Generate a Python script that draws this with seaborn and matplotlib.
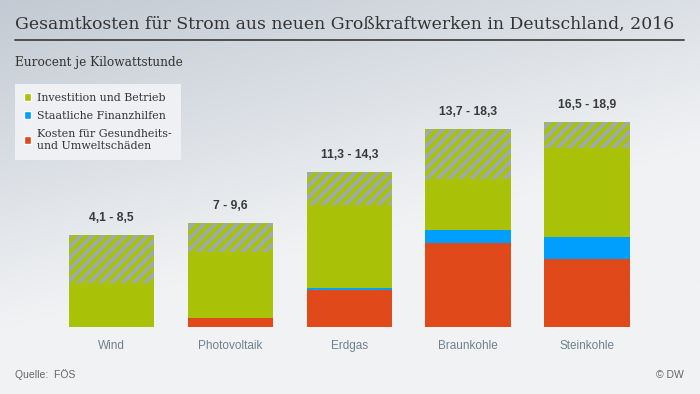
import numpy as np
import pandas as pd
import matplotlib
matplotlib.use("Agg")
import matplotlib.pyplot as plt
from matplotlib.patches import Patch
from matplotlib.lines import Line2D
import seaborn as sns

# ========== data (Eurocent je kWh) ==========
kategorien = ["Wind", "Photovoltaik", "Erdgas", "Braunkohle", "Steinkohle"]
gesundheit = [0.0, 0.9, 3.5, 7.8, 6.3]      # Kosten für Gesundheits- und Umweltschäden
finanzhilfen = [0.0, 0.0, 0.1, 1.2, 2.0]    # Staatliche Finanzhilfen
investition = [4.1, 6.1, 7.7, 4.7, 8.2]     # Investition und Betrieb
spanne_von = [4.1, 7.0, 11.3, 13.7, 16.5]
spanne_bis = [8.5, 9.6, 14.3, 18.3, 18.9]
spanne_text = ["4,1 - 8,5", "7 - 9,6", "11,3 - 14,3", "13,7 - 18,3", "16,5 - 18,9"]

ROT = "#e0491a"
BLAU = "#009ffd"
GRUEN = "#a9c208"
GRAU = "#9aaab8"

df = pd.DataFrame({
    "kategorie": kategorien,
    "gesundheit": gesundheit,
    "finanzhilfen": finanzhilfen,
    "investition": investition,
    "von": spanne_von,
    "spanne": np.array(spanne_bis) - np.array(spanne_von),
})
df["unten_blau"] = df["gesundheit"]
df["unten_gruen"] = df["gesundheit"] + df["finanzhilfen"]

sns.set_style("white")
plt.rcParams["hatch.linewidth"] = 3.0
plt.rcParams["font.family"] = ["DejaVu Sans"]

fig = plt.figure(figsize=(7, 3.94), dpi=100)

# background gradient
bg = fig.add_axes([0, 0, 1, 1], zorder=-10)
u = np.linspace(0, 1, 350)[None, :]
v = np.linspace(0, 1, 200)[:, None]
d = np.clip(1 - (0.55 * u + 1.2 * v), 0, 1)
dunkel = np.array([194, 202, 211]) / 255
hell = np.array([241, 242, 244]) / 255
bg.imshow(hell + d[..., None] * (dunkel - hell), aspect="auto", extent=[0, 1, 0, 1])
bg.axis("off")

ax = fig.add_axes([0.0747, 0.1688, 0.8487, 0.5783])
ax.set_facecolor("none")

bw = 0.72
sns.barplot(data=df, x="kategorie", y="gesundheit", color=ROT, width=bw,
            saturation=1, linewidth=0, errorbar=None, ax=ax)
sns.barplot(data=df, x="kategorie", y="finanzhilfen", bottom=df["unten_blau"],
            color=BLAU, width=bw, saturation=1, linewidth=0, errorbar=None, ax=ax)
sns.barplot(data=df, x="kategorie", y="investition", bottom=df["unten_gruen"],
            color=GRUEN, width=bw, saturation=1, linewidth=0, errorbar=None, ax=ax)
sns.barplot(data=df, x="kategorie", y="spanne", bottom=df["von"],
            color=GRAU, edgecolor=GRUEN, hatch="///", width=bw, saturation=1,
            linewidth=0, errorbar=None, ax=ax)

ax.bar_label(ax.containers[-1], labels=spanne_text, padding=8,
             fontsize=8.7, fontweight="bold", color="#3a3a3a",
             family=["Liberation Sans", "DejaVu Sans"])

ax.set_xlim(-0.5, 4.5)
ax.set_ylim(0, 21)
ax.set(xlabel="", ylabel="", yticks=[])
sns.despine(ax=ax, left=True, bottom=True)
ax.tick_params(axis="x", length=0, pad=9, labelcolor="#6e8192", labelsize=8.5)
for t in ax.get_xticklabels():
    t.set_family(["Liberation Sans", "DejaVu Sans"])

# title + line + subtitle
serif = ["DejaVu Serif"]
titel = fig.text(15 / 700, 1 - 29 / 394,
                 "Gesamtkosten für Strom aus neuen Großkraftwerken in Deutschland, 2016",
                 fontsize=14, family=serif, color="#333333", va="baseline")
r = fig.canvas.get_renderer()
titel.set_fontsize(14 * 662 / titel.get_window_extent(r).width)
fig.add_artist(Line2D([15 / 700, 684 / 700], [1 - 39.5 / 394] * 2, color="#444444", lw=1.3))
fig.text(15 / 700, 1 - 66 / 394, "Eurocent je Kilowattstunde",
         fontsize=8.7, family=serif, color="#333333", va="baseline")

# legend
handles = [Patch(facecolor=GRUEN), Patch(facecolor=BLAU), Patch(facecolor=ROT)]
labels = ["Investition und Betrieb", "Staatliche Finanzhilfen",
          "Kosten für Gesundheits-\nund Umweltschäden"]
fig.legend(handles, labels, loc="upper left", bbox_to_anchor=(15 / 700, 1 - 84 / 394),
           bbox_transform=fig.transFigure, frameon=True, facecolor="#eef0f3",
           edgecolor="none", fancybox=False, framealpha=1, borderpad=0.8,
           borderaxespad=0, handlelength=0.7, handleheight=0.7, handletextpad=0.55,
           labelspacing=0.75, prop={"family": serif, "size": 7.9}, labelcolor="#333333")

# footer
fig.text(15 / 700, 1 - 378 / 394, "Quelle:  FÖS", fontsize=7.5, color="#666666",
         family=["Liberation Sans", "DejaVu Sans"], va="baseline")
fig.text(684 / 700, 1 - 378 / 394, "© DW", fontsize=7.5, color="#666666",
         family=["Liberation Sans", "DejaVu Sans"], va="baseline", ha="right")

fig.savefig("out.png", dpi=100)
